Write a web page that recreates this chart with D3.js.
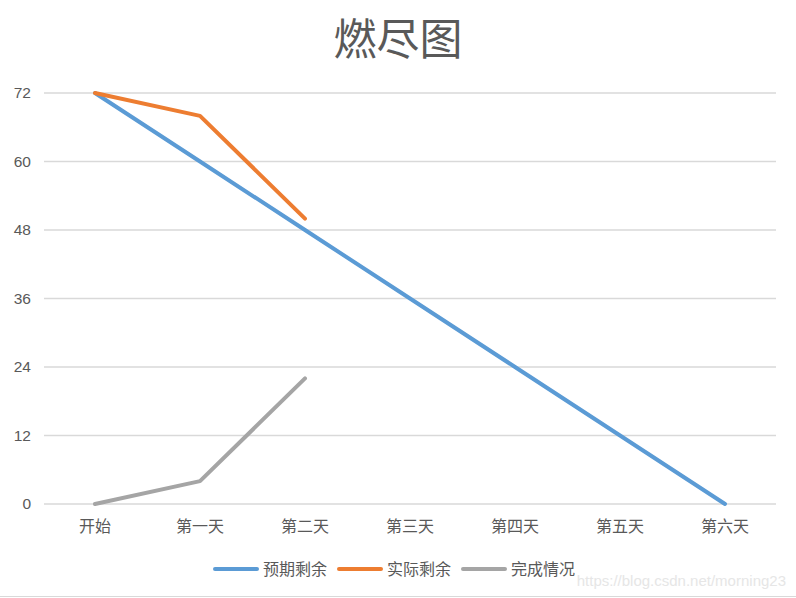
<!DOCTYPE html>
<html>
<head>
<meta charset="utf-8">
<script src="https://cdn.jsdelivr.net/npm/d3@7"></script>
<style>
  body { margin: 0; background: #fff; }
</style>
</head>
<body>
<svg id="chart" width="796" height="598"></svg>
<script>
var days = ['开始', '第一天', '第二天', '第三天', '第四天', '第五天', '第六天'];
var expected = [72, 60, 48, 36, 24, 12, 0];
var actual = [72, 68, 50];
var done = [0, 4, 22];
var yTicks = [0, 12, 24, 36, 48, 60, 72];
var seriesNames = ['预期剩余', '实际剩余', '完成情况'];

var blue = '#5b9bd5';
var orange = '#ed7d31';
var gray = '#a5a5a5';
var labelColor = '#595959';
var cjk = '"Noto Sans CJK SC", "Noto Sans", sans-serif';

var svg = d3.select('#chart');

var x = d3.scalePoint()
  .domain(days)
  .range([95, 725]);

var y = d3.scaleLinear()
  .domain([0, 72])
  .range([504, 93]);

// title
svg.append('text')
  .attr('x', 398)
  .attr('y', 55)
  .attr('text-anchor', 'middle')
  .attr('font-family', cjk)
  .attr('font-size', '43px')
  .attr('fill', labelColor)
  .text('燃尽图');

// gridlines
svg.append('g')
  .selectAll('line')
  .data(yTicks)
  .enter().append('line')
  .attr('x1', 44)
  .attr('x2', 776)
  .attr('y1', function(d) { return y(d); })
  .attr('y2', function(d) { return y(d); })
  .attr('stroke', '#d9d9d9')
  .attr('stroke-width', 1.3);

// y labels
svg.append('g')
  .selectAll('text')
  .data(yTicks)
  .enter().append('text')
  .attr('x', 31)
  .attr('y', function(d) { return y(d); })
  .attr('dy', '0.35em')
  .attr('text-anchor', 'end')
  .attr('font-family', '"Liberation Sans", Arial, sans-serif')
  .attr('font-size', '15.5px')
  .attr('fill', labelColor)
  .text(function(d) { return d; });

// x labels
svg.append('g')
  .selectAll('text')
  .data(days)
  .enter().append('text')
  .attr('x', function(d) { return x(d); })
  .attr('y', 532)
  .attr('text-anchor', 'middle')
  .attr('font-family', cjk)
  .attr('font-size', '16px')
  .attr('fill', labelColor)
  .text(function(d) { return d; });

var line = d3.line()
  .x(function(d, i) { return x(days[i]); })
  .y(function(d) { return y(d); });

var series = [
  { values: expected, color: blue },
  { values: actual, color: orange },
  { values: done, color: gray }
];

svg.append('g')
  .selectAll('path')
  .data(series)
  .enter().append('path')
  .attr('d', function(d) { return line(d.values); })
  .attr('fill', 'none')
  .attr('stroke', function(d) { return d.color; })
  .attr('stroke-width', 4)
  .attr('stroke-linecap', 'round')
  .attr('stroke-linejoin', 'round');

// legend
var legendX = [215, 339, 463];
var legend = svg.append('g')
  .selectAll('g')
  .data(series)
  .enter().append('g')
  .attr('transform', function(d, i) { return 'translate(' + legendX[i] + ',569)'; });

legend.append('line')
  .attr('x1', 0)
  .attr('x2', 42)
  .attr('stroke', function(d) { return d.color; })
  .attr('stroke-width', 4)
  .attr('stroke-linecap', 'round');

legend.append('text')
  .attr('x', 48)
  .attr('dy', '0.35em')
  .attr('font-family', cjk)
  .attr('font-size', '16px')
  .attr('fill', labelColor)
  .text(function(d, i) { return seriesNames[i]; });

// watermark
svg.append('text')
  .attr('x', 786)
  .attr('y', 586)
  .attr('text-anchor', 'end')
  .attr('font-family', '"Liberation Sans", Arial, sans-serif')
  .attr('font-size', '15px')
  .attr('fill', '#e6e6e6')
  .text('https://blog.csdn.net/morning23');

// bottom border
svg.append('line')
  .attr('x1', 0)
  .attr('x2', 796)
  .attr('y1', 596.5)
  .attr('y2', 596.5)
  .attr('stroke', '#d9d9d9')
  .attr('stroke-width', 1);
</script>
</body>
</html>
